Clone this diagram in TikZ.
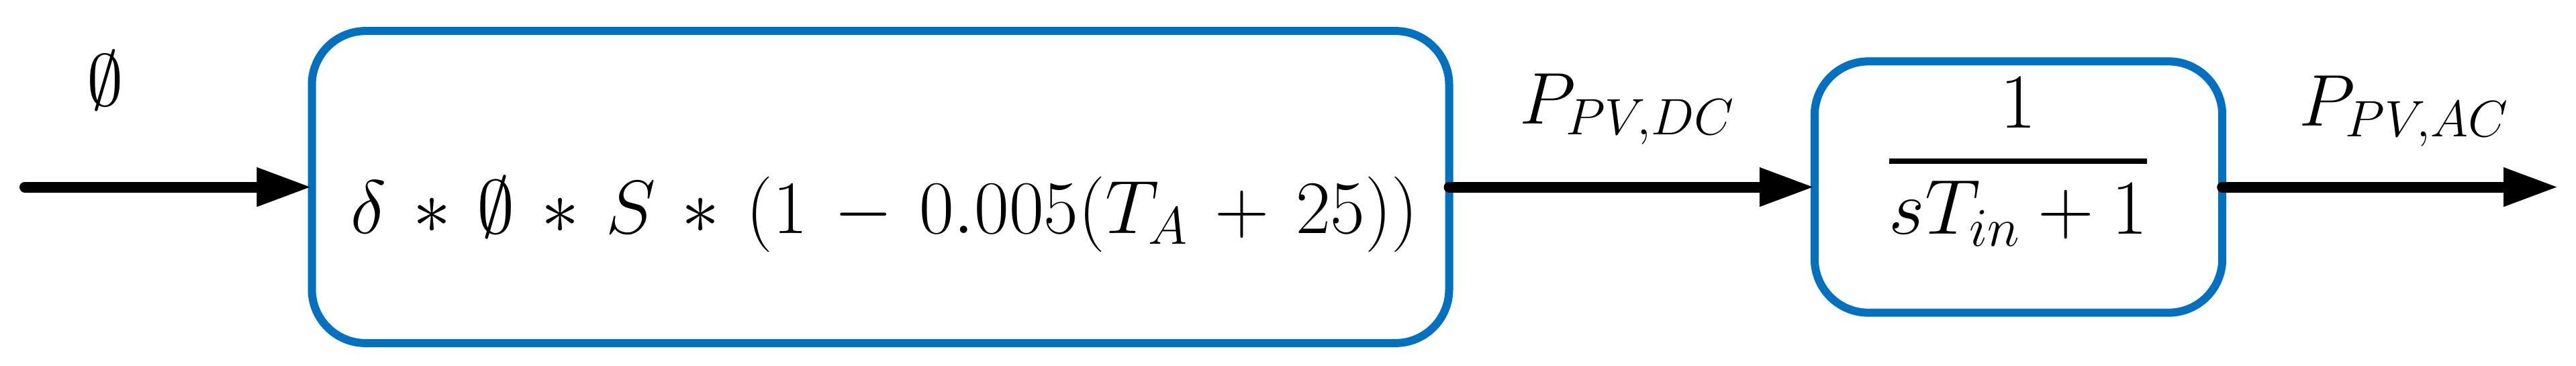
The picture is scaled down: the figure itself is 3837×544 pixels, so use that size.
\RequirePackage{fix-cm}
\documentclass[tikz,border=0pt]{standalone}
\usepackage{amsmath}
\usetikzlibrary{arrows.meta}
\definecolor{boxblue}{RGB}{0,112,192}
\begin{document}
\begin{tikzpicture}[x=0.01cm,y=-0.01cm,
  blockbox/.style={draw=boxblue, line width=0.12cm, rounded corners=0.8cm, outer sep=0pt, inner sep=0pt},
  sig/.style={line width=0.16cm, line cap=round, -{Triangle[length=0.82cm,width=0.54cm]}},
  lbl/.style={inner sep=0pt, anchor=base, font=\fontsize{31}{36}\selectfont}]
\useasboundingbox (0,0) rectangle (3837,544);
\node[blockbox, minimum width=16.93cm, minimum height=4.645cm] (b1) at (1311.5,278.5) {};
\node[blockbox, minimum width=6.07cm, minimum height=3.74cm] (b2) at (3006.5,278.5) {};
\coordinate (in) at (37,278.5);
\coordinate (out) at (3811,278.5);
\node[lbl, font=\fontsize{32}{38}\selectfont] (f1) at (1318,347) {\medmuskip=6.3mu $\delta*\emptyset*S*(1-0.005(T_A+25))$};
\node[lbl, font=\fontsize{33}{40}\selectfont] (f2) at (3006,269) {$\genfrac{}{}{2.4pt}{0}{1}{sT_{in}+1}$};
\node[lbl] (phi) at (157,157) {$\emptyset$};
\node[lbl] (pdc) at (2424,184) {$P_{PV,DC}$};
\node[lbl] (pac) at (3581,187) {$P_{PV,AC}$};
\draw[sig] (in) -- (b1.west);
\draw[sig] (b1.east) -- (b2.west);
\draw[sig] (b2.east) -- (out);
\end{tikzpicture}
\end{document}
